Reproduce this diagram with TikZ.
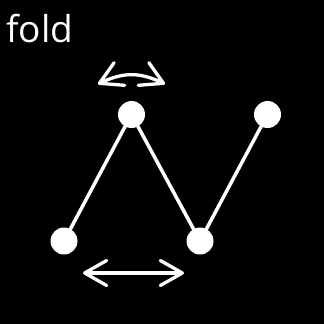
\documentclass[tikz,border=0pt]{standalone}
\usepackage{fontspec}
\setmainfont{Open Sans}
\usetikzlibrary{arrows.meta}
\tikzset{
  dot/.style={circle,fill=white,draw=none,minimum size=27pt,inner sep=0pt},
  link/.style={white,line width=3.5pt},
  move/.style={white,line width=3.3pt,line cap=round,
    {Straight Barb[length=22pt,width=25pt,round]}-{Straight Barb[length=22pt,width=25pt,round]}},
  label/.style={text=white,font=\fontsize{37}{44}\selectfont,inner sep=0pt,anchor=base west}
}
\begin{document}
\begin{tikzpicture}[x=1pt,y=-1pt]
\fill[black] (0,0) rectangle (324,324);
\useasboundingbox (0,0) rectangle (324,324);
\node[label] (title) at (6,42.7) {fold};
\node[dot] (a) at (64,241) {};
\node[dot] (b) at (131.5,114.5) {};
\node[dot] (c) at (200,241) {};
\node[dot] (d) at (267.5,114.5) {};
\draw[link] (a.center) -- (b.center) -- (c.center) -- (d.center);
\coordinate (l1) at (98,84);
\coordinate (r1) at (165,84);
\draw[move] (l1) .. controls (123.7,72) and (139.3,72) .. (r1);
\coordinate (l2) at (83,273);
\coordinate (r2) at (184,273);
\draw[move] (l2) -- (r2);
\end{tikzpicture}
\end{document}
